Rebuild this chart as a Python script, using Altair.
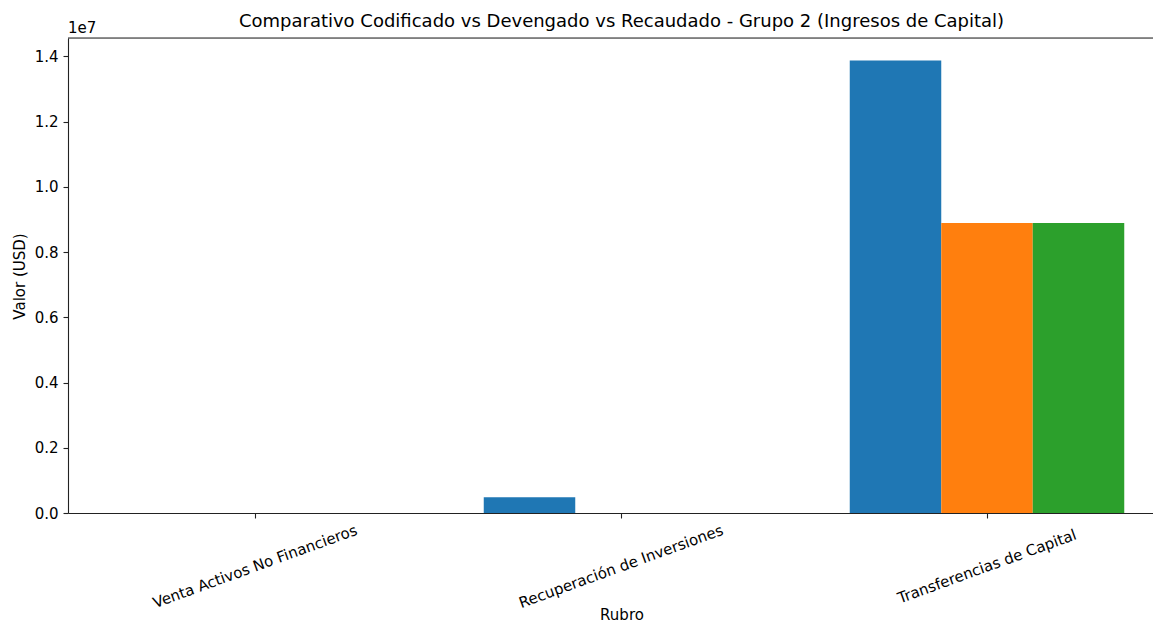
import altair as alt
import pandas as pd

# ---- data ----
rubros = ["Venta Activos No Financieros", "Recuperación de Inversiones", "Transferencias de Capital"]
series = ["Codificado", "Devengado", "Recaudado"]
codificado = [0, 480000, 13870000]
devengado = [0, 0, 8890000]
recaudado = [0, 0, 8890000]
colors = ["#1f77b4", "#ff7f0e", "#2ca02c"]
y_ticks = [0, 2000000, 4000000, 6000000, 8000000, 10000000, 12000000, 14000000]

rows = []
for i, r in enumerate(rubros):
    for s, vals in zip(series, [codificado, devengado, recaudado]):
        rows.append({"Rubro": r, "Serie": s, "Valor": vals[i]})
df = pd.DataFrame(rows)

ymax = 1.05 * max(codificado + devengado + recaudado)

W = 1085
H = 475
FONT = "DejaVu Sans"
SPINE = "#222222"
FS = 15

bars = alt.Chart(df).mark_bar(stroke=None).encode(
    x=alt.X(
        "Rubro:N",
        sort=rubros,
        scale=alt.Scale(paddingInner=0.25, paddingOuter=0.10724, align=0.6338),
        axis=alt.Axis(
            title="Rubro",
            labelAngle=-20,
            labelAlign="center",
            labelBaseline="middle",
            labelPadding=48,
            labelLimit=0,
            tickSize=5,
            tickColor=SPINE,
            tickWidth=1.1,
            domainColor=SPINE,
            domainWidth=1.1,
            labelColor="black",
            labelFont=FONT,
            labelFontSize=FS,
            titleFont=FONT,
            titleFontSize=FS,
            titleFontWeight="normal",
            titleColor="black",
            titleX=553.5,
            titleY=106,
            titleAlign="center",
            titleBaseline="alphabetic",
            grid=False,
        ),
    ),
    xOffset=alt.XOffset(
        "Serie:N", sort=series, scale=alt.Scale(paddingInner=0, paddingOuter=0)
    ),
    y=alt.Y(
        "Valor:Q",
        scale=alt.Scale(domain=[0, ymax], nice=False, zero=True),
        axis=alt.Axis(
            title="Valor (USD)",
            values=y_ticks,
            labelExpr="format(datum.value / 10000000, '.1f')",
            tickSize=5,
            tickColor=SPINE,
            tickWidth=1.1,
            domainColor=SPINE,
            domainWidth=1.1,
            labelColor="black",
            labelFont=FONT,
            labelFontSize=FS,
            labelPadding=4.9,
            titleFont=FONT,
            titleFontSize=FS,
            titleFontWeight="normal",
            titleColor="black",
            titleAngle=270,
            titleX=-49,
            titleY=238,
            titleAlign="center",
            titleBaseline="middle",
            grid=False,
        ),
    ),
    color=alt.Color(
        "Serie:N", sort=series, scale=alt.Scale(domain=series, range=colors), legend=None
    ),
)

exp_text = alt.Chart(pd.DataFrame({"t": ["1e7"]})).mark_text(
    align="left", baseline="middle", font=FONT, fontSize=FS, color="black"
).encode(text="t:N", x=alt.value(0), y=alt.value(-10))

top_spine = alt.Chart(pd.DataFrame({"t": [0]})).mark_rule(
    color=SPINE, strokeWidth=1.1
).encode(x=alt.value(0), x2=alt.value(W), y=alt.value(0))

chart = (
    alt.layer(bars, exp_text, top_spine)
    .properties(
        width=W,
        height=H,
        title=alt.TitleParams(
            "Comparativo Codificado vs Devengado vs Recaudado - Grupo 2 (Ingresos de Capital)",
            font=FONT,
            fontSize=18,
            fontWeight="normal",
            color="black",
            anchor="middle",
            frame="group",
            dx=11,
            dy=14,
        ),
        padding={"left": 60, "top": 30, "right": 0, "bottom": 110},
        autosize=alt.AutoSizeParams(type="none"),
    )
    .configure_view(stroke=None)
    .configure(background="white")
)

chart.save("out.html", embed_options={"renderer": "svg", "actions": False})
